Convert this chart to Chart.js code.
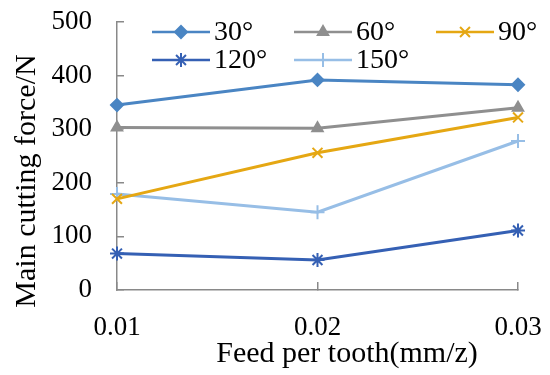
<!DOCTYPE html>
<html>
<head>
<meta charset="utf-8">
<script src="https://cdn.jsdelivr.net/npm/chart.js@4/dist/chart.umd.min.js"></script>
<style>
  html, body { margin: 0; padding: 0; background: #fff; }
  #wrap { width: 550px; height: 375px; }
</style>
</head>
<body>
<div id="wrap"><canvas id="myChart" width="550" height="375"></canvas></div>
<script>
  // data
  var feeds = ["0.01", "0.02", "0.03"];
  var angles = ["30°", "60°", "90°", "120°", "150°"];
  var force30 = [345, 392, 383];
  var force60 = [303, 302, 340];
  var force90 = [170, 256, 322];
  var force120 = [68, 56, 111];
  var force150 = [179, 145, 278];
  var yTicks = [0, 100, 200, 300, 400, 500];

  var fontName = "'Liberation Serif', 'DejaVu Serif', serif";
  var axisGray = "#898989";

  function series(label, data, color, shape, radius){
    return {
      label: label,
      data: data,
      borderColor: color,
      backgroundColor: color,
      borderWidth: 3,
      pointStyle: shape,
      pointRadius: radius,
      pointHoverRadius: radius,
      pointBorderWidth: 2,
      tension: 0
    };
  }

  // legend drawn inside the plot, 3 columns like the original
  var insideLegend = {
    id: "insideLegend",
    afterDraw: function(chart){
      var ctx = chart.ctx;
      var cols = [152, 294, 436];
      var rows = [32, 60];
      ctx.save();
      ctx.font = "28px " + fontName;
      ctx.textBaseline = "middle";
      ctx.textAlign = "left";
      chart.data.datasets.forEach(function(ds, i){
        var x = cols[i % 3], y = rows[Math.floor(i / 3)];
        ctx.strokeStyle = ds.borderColor;
        ctx.lineWidth = 2.5;
        ctx.beginPath();
        ctx.moveTo(x, y);
        ctx.lineTo(x + 58, y);
        ctx.stroke();
        ctx.fillStyle = ds.backgroundColor;
        ctx.lineWidth = 2;
        Chart.helpers.drawPoint(ctx, {pointStyle: ds.pointStyle, radius: ds.pointRadius, rotation: 0, borderWidth: 2}, x + 29, y);
        ctx.fillStyle = "#000";
        ctx.fillText(ds.label, x + 62, y + 1);
      });
      ctx.restore();
    }
  };

  // axis titles, placed where the original has them
  var axisTitles = {
    id: "axisTitles",
    afterDraw: function(chart){
      var ctx = chart.ctx;
      ctx.save();
      ctx.font = "30px " + fontName;
      ctx.fillStyle = "#000";
      ctx.textAlign = "center";
      ctx.textBaseline = "middle";
      ctx.fillText("Feed per tooth(mm/z)", 347, 354);
      ctx.translate(27, 181);
      ctx.rotate(-Math.PI / 2);
      ctx.fillText("Main cutting force/N", 0, 0);
      ctx.restore();
    }
  };

  var ctx = document.getElementById("myChart").getContext("2d");
  var myChart = new Chart(ctx, {
    type: "line",
    data: {
      labels: feeds,
      datasets: [
        series(angles[0], force30, "#4a85c3", "rectRot", 6),
        series(angles[1], force60, "#8f8f8f", "triangle", 6),
        series(angles[2], force90, "#e5a713", "crossRot", 7),
        series(angles[3], force120, "#3560b4", "star", 7),
        series(angles[4], force150, "#97bee6", "cross", 7)
      ]
    },
    options: {
      responsive: false,
      animation: false,
      layout: { padding: { left: 0, right: 32, top: 22, bottom: 0 } },
      plugins: {
        legend: { display: false },
        tooltip: { enabled: false }
      },
      scales: {
        x: {
          offset: false,
          grid: { drawOnChartArea: false, drawTicks: true, tickLength: -8, color: axisGray, lineWidth: 1.5 },
          border: { color: axisGray, width: 1.5 },
          ticks: { color: "#000", padding: 30, maxRotation: 0, font: { family: fontName, size: 27 } },
          afterFit: function(scale){
            scale.height = 85;
            scale.paddingLeft = 0;
            scale.paddingRight = 0;
          }
        },
        y: {
          min: 0,
          max: 500,
          afterBuildTicks: function(scale){ scale.ticks = yTicks.map(function(v){ return {value: v}; }); },
          grid: { drawOnChartArea: false, drawTicks: true, tickLength: -7, color: axisGray, lineWidth: 1.5 },
          border: { color: axisGray, width: 1.5 },
          ticks: { color: "#000", padding: 32, font: { family: fontName, size: 27 } },
          afterFit: function(scale){
            scale.width = 117;
            scale.paddingTop = 0;
            scale.paddingBottom = 0;
          }
        }
      }
    },
    plugins: [insideLegend, axisTitles]
  });
</script>
</body>
</html>
